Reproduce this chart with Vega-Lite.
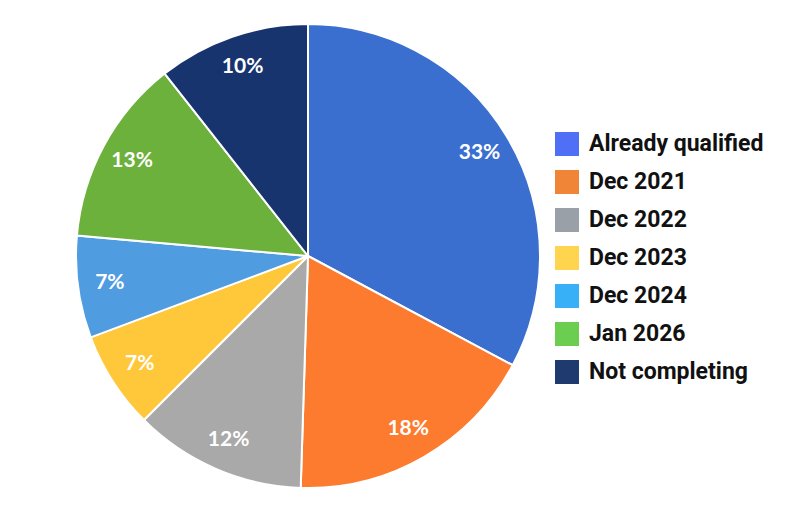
{
  "$schema": "https://vega.github.io/schema/vega-lite/v6.json",
  "width": 464,
  "height": 464,
  "padding": {"left": 72, "top": 20, "right": 0, "bottom": 0},
  "background": "white",
  "data": {
    "values": [
      {"status": "Already qualified", "order": 1, "value": 32.8, "label": "33%"},
      {"status": "Dec 2021", "order": 2, "value": 17.7, "label": "18%"},
      {"status": "Dec 2022", "order": 3, "value": 12.0, "label": "12%"},
      {"status": "Dec 2023", "order": 4, "value": 6.8, "label": "7%"},
      {"status": "Dec 2024", "order": 5, "value": 7.1, "label": "7%"},
      {"status": "Jan 2026", "order": 6, "value": 13.0, "label": "13%"},
      {"status": "Not completing", "order": 7, "value": 10.6, "label": "10%"}
    ]
  },
  "encoding": {
    "theta": {"field": "value", "type": "quantitative", "stack": true},
    "order": {"field": "order", "type": "quantitative"}
  },
  "layer": [
    {
      "mark": {"type": "arc", "stroke": "white", "strokeWidth": 2},
      "encoding": {
        "color": {
          "field": "status",
          "type": "nominal",
          "sort": ["Already qualified", "Dec 2021", "Dec 2022", "Dec 2023", "Dec 2024", "Jan 2026", "Not completing"],
          "scale": {"range": ["#3a6fcf", "#fd7b2e", "#a9a9a9", "#fec83a", "#4f9ce0", "#6cb13c", "#17346f"]},
          "legend": null
        }
      }
    },
    {
      "mark": {"type": "arc", "outerRadius": 0},
      "encoding": {
        "color": {
          "field": "status",
          "type": "nominal",
          "sort": ["Already qualified", "Dec 2021", "Dec 2022", "Dec 2023", "Dec 2024", "Jan 2026", "Not completing"],
          "scale": {"range": ["#4f6ff6", "#f08537", "#9aa0a8", "#ffd54f", "#38b0f8", "#6cce50", "#1f3a6e"]},
          "legend": {
            "title": null,
            "orient": "none",
            "legendX": 479,
            "legendY": 108,
            "symbolType": "square",
            "symbolSize": 576,
            "symbolStrokeWidth": 0,
            "symbolOpacity": 1,
            "labelFont": "Roboto",
            "labelFontWeight": "bold",
            "labelFontSize": 23,
            "labelColor": "#111111",
            "labelOffset": 10,
            "rowPadding": 14,
            "padding": 0,
            "labelLimit": 300
          }
        }
      }
    },
    {
      "mark": {"type": "text", "radius": 200, "font": "Lato", "fontWeight": "bold", "fontSize": 21, "color": "white"},
      "encoding": {
        "text": {"field": "label"}
      }
    }
  ],
  "resolve": {"scale": {"color": "independent"}},
  "config": {"view": {"stroke": null}}
}
